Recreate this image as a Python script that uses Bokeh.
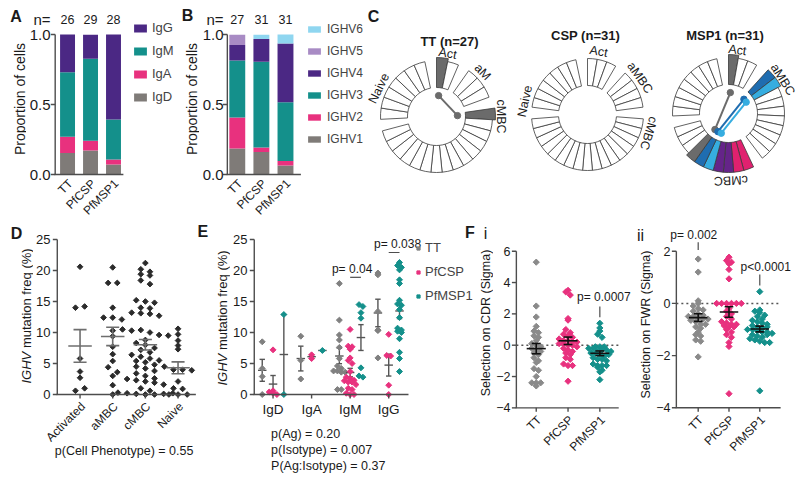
import math
import numpy as np
from bokeh.plotting import figure
from bokeh.models import Range1d, Legend, LegendItem, FixedTicker, PrintfTickFormatter
from bokeh.layouts import row, column
from bokeh.embed import file_html
from bokeh.resources import INLINE
from bokeh.core.properties import value

FONT = "Liberation Sans"
AX = "#4d4d4d"
TXT = "#1a1a1a"

GRAY = "#7f7b78"
MAGENTA = "#e8317e"
TEAL = "#14908b"
PURPLE = "#4b2884"
LILAC = "#a88bc4"
SKY = "#8fd6f0"

# ---------------- data ----------------
antigens = ["TT", "PfCSP", "PfMSP1"]

# A: isotype proportions (stack bottom -> top)
isotypes = ["IgD", "IgA", "IgM", "IgG"]
n_isotype = [26, 29, 28]
prop_IgD = [0.154, 0.172, 0.071]
prop_IgA = [0.115, 0.069, 0.036]
prop_IgM = [0.462, 0.586, 0.286]
prop_IgG = [0.269, 0.172, 0.607]

# B: IGHV family proportions (stack bottom -> top)
vh_genes = ["IGHV1", "IGHV2", "IGHV3", "IGHV4", "IGHV5", "IGHV6"]
n_vh = [27, 31, 31]
prop_V1 = [0.185, 0.161, 0.065]
prop_V2 = [0.222, 0.032, 0.032]
prop_V3 = [0.407, 0.613, 0.419]
prop_V4 = [0.111, 0.161, 0.419]
prop_V5 = [0.074, 0.000, 0.000]
prop_V6 = [0.000, 0.032, 0.065]

# C: clonal circle plots
phenotypes = ["Act", "aMBC", "cMBC", "Naive"]
TT_counts = [2, 3, 15, 7]
CSP_counts = [3, 4, 17, 7]
MSP1_counts = [3, 10, 10, 8]
TT_cells = [("Act", 0, "gray"), ("cMBC", 0, "gray")]
CSP_cells = []
MSP1_cells = [("Act", 0, "gray"), ("aMBC", 0, "blue"), ("aMBC", 1, "light"),
              ("cMBC", 0, "pink"), ("cMBC", 1, "pink"), ("cMBC", 2, "purple"),
              ("cMBC", 3, "purple"), ("cMBC", 4, "light"), ("cMBC", 5, "blue"),
              ("cMBC", 6, "gray")]
TT_links = [(("Act", 0), ("cMBC", 0), "gray")]
CSP_links = []
MSP1_links = [(("Act", 0), ("cMBC", 6), "gray"),
              (("aMBC", 0), ("cMBC", 5), "blue"),
              (("aMBC", 1), ("cMBC", 4), "light")]
TT_labels = {"Act": ("Act", 80), "aMBC": ("aM", 44), "cMBC": ("cMBC", 0), "Naive": ("Naive", 154)}
CSP_labels = {"Act": ("Act", 80), "aMBC": ("aMBC", 35), "cMBC": ("cMBC", -17), "Naive": ("Naive", 168)}
MSP1_labels = {"Act": ("Act", 82), "aMBC": ("aMBC", 32), "cMBC": ("cMBC", -88)}

# D: IGHV mutation frequency by phenotype
pheno_labels = ["Activated", "aMBC", "cMBC", "Naive"]
act_mut = [20.6, 14.0, 14.2, 5.8, 3.7, 2.7, 0.6, 1.0]
ambc_mut = [20.5, 18.0, 18.0, 14.0, 12.4, 12.4, 12.1, 10.3, 9.4, 7.7, 6.5, 5.4,
            4.4, 3.6, 3.0, 1.5, 0.0]
cmbc_mut = [21.2, 20.2, 19.8, 19.4, 19.2, 18.4, 17.8, 15.2, 15.0, 14.8, 14.0,
            13.9, 13.2, 13.1, 13.0, 12.7, 10.5, 10.3, 10.4, 10.0, 9.6, 9.5, 8.8,
            8.3, 8.0, 7.5, 7.2, 6.8, 6.4, 6.1, 5.8, 5.5, 5.4, 5.2, 4.8, 4.5, 4.2,
            3.8, 3.4, 3.0, 2.6, 2.5, 2.3, 2.1, 1.9, 1.6, 1.0, 0.6, 0.3, 0.2, 0.1,
            0.0, 0.0, 0.1, 0.2]
naive_mut = [10.6, 9.7, 8.7, 7.9, 7.3, 4.5, 4.0, 4.0, 3.9, 2.1, 1.0, 0.9, 0.0, 0.0, 0.0]

# E: IGHV mutation frequency by isotype and antigen
iso_order = ["IgD", "IgA", "IgM", "IgG"]
TT_IgD = [8.5, 4.2, 2.9, 0.0]
TT_IgA = [9.4, 5.5, 2.5]
TT_IgM = [17.9, 12.0, 9.6, 8.8, 7.6, 5.8, 4.6, 4.2, 3.8, 3.8, 3.6, 3.6, 0.8, 0.8]
TT_IgG = [19.6, 19.3, 13.4, 10.4, 10.3, 5.9]
CSP_IgD = [7.2, 0.6, 0.4, 0.2, 0.0]
CSP_IgA = [6.4, 5.8]
CSP_IgM = [10.5, 7.8, 7.7, 7.3, 5.9, 5.5, 5.0, 3.7, 2.8, 2.6, 2.3, 2.2, 2.0, 2.0,
           1.6, 1.0, 0.8, 0.2, 0.0, 0.0]
CSP_IgG = [9.7, 6.3, 6.2, 1.5, 0.0]
MSP1_IgD = [12.9, 0.0]
MSP1_IgA = [7.1]
MSP1_IgM = [14.5, 14.2, 13.2, 12.3, 4.3, 3.0, 2.8]
MSP1_IgG = [21.3, 20.8, 20.5, 20.1, 18.5, 17.9, 15.2, 14.6, 14.4, 13.7, 12.4, 10.7,
            10.4, 10.2, 10.0, 9.0, 6.8, 5.8, 3.7]

# F: selection strength (sigma)
cdr_TT = [5.3, 2.5, 1.8, 1.2, 0.9, 0.8, 0.6, 0.5, 0.3, 0.1, 0.0, -0.1, -0.2, -0.3,
          -0.4, -0.5, -0.6, -0.8, -1.0, -1.1, -1.5, -1.6, -2.0, -2.4, -2.4, -2.4, -2.6]
cdr_CSP = [3.5, 3.4, 3.2, 1.7, 1.6, 1.0, 0.8, 0.7, 0.6, 0.5, 0.4, 0.3, 0.3, 0.2, 0.2,
           0.1, 0.1, 0.0, 0.0, -0.1, -0.2, -0.3, -0.4, -0.5, -0.6, -0.8, -0.9, -1.2,
           -1.3, -1.3, -2.3]
cdr_MSP1 = [1.4, 0.9, 1.1, 0.7, 0.5, -0.1, -0.2, -0.2, -0.4, -0.1, -0.1, -0.3, -0.3,
            -0.4, -0.5, -0.5, -0.6, -0.7, -0.8, -0.9, -0.9, -1.0, -1.2, -1.3, -1.3,
            -1.3, -1.4, -1.6, -1.7, -2.2, -0.6]
fwr_TT = [1.7, 1.2, 0.1, 0.0, -0.1, -0.2, -0.25, -0.3, -0.4, -0.45, -0.5, -0.5, -0.55,
          -0.6, -0.6, -0.65, -0.7, -0.8, -0.8, -0.9, -0.95, -1.1, -1.2, -1.25, -1.4,
          -1.45, -2.05]
fwr_CSP = [1.77, 1.64, 1.58, 1.52, 1.3, 0.94, 0.0, 0.0, 0.0, 0.0, 0.0, 0.0, -0.2, -0.3,
           -0.4, -0.5, -0.6, -0.7, -0.75, -0.8, -0.8, -0.85, -0.9, -0.9, -1.0, -1.1,
           -1.2, -1.3, -1.5, -1.65, -3.46]
fwr_MSP1 = [0.45, -0.25, -0.3, -0.35, -0.45, -0.5, -0.6, -0.65, -0.7, -0.75, -0.8,
            -0.85, -0.9, -0.95, -1.0, -1.0, -1.05, -1.1, -1.1, -1.15, -1.2, -1.25, -1.3,
            -1.35, -1.4, -1.45, -1.5, -1.5, -1.2, -0.9, -3.35]


# ---------------- helpers ----------------
class Geo:
    """maps page pixels to a figure's data space (frame = whole figure)"""

    def __init__(self, ox, oy, w, h, xa, xb, ya, yb):
        self.sx = (xb[1] - xa[1]) / (xb[0] - xa[0])
        self.sy = (yb[1] - ya[1]) / (yb[0] - ya[0])
        self.xa, self.ya = xa, ya
        self.xr = (self.dx(ox), self.dx(ox + w))
        self.yr = (self.dy(oy + h), self.dy(oy))

    def dx(self, rx):
        return self.xa[1] + (rx - self.xa[0]) * self.sx

    def dy(self, ry):
        return self.ya[1] + (ry - self.ya[0]) * self.sy

    def py(self, n):
        return -n * self.sy


def make(ox, oy, w, h, xa=(0, 0), xb=(100, 100), ya=(0, 0), yb=(100, -100),
         label_rx=None, tick_size="13px"):
    g = Geo(ox, oy, w, h, xa, xb, ya, yb)
    yaxis = label_rx is not None
    p = figure(width=w, height=h, x_range=Range1d(*g.xr), y_range=Range1d(*g.yr),
               min_border_left=0, min_border_right=0, min_border_top=0,
               min_border_bottom=0, x_axis_location=None,
               y_axis_location=("left" if yaxis else None),
               toolbar_location=None, tools="", output_backend="svg", title=None)
    p.grid.visible = False
    p.outline_line_color = None
    if yaxis:
        ax = p.yaxis[0]
        ax.axis_line_color = None
        ax.major_tick_out = 0
        ax.major_tick_in = 0
        ax.minor_tick_line_color = None
        ax.major_label_text_font = FONT
        ax.major_label_text_font_size = tick_size
        ax.major_label_text_color = TXT
        # tick labels are right-aligned at page x = label_rx (inside the frame)
        ax.major_label_standoff = int(round(ox - label_rx))
    return p, g


def txt(p, x, y, s, size="12px", style="normal", align="center", baseline="middle",
        angle=0.0, color=TXT):
    p.text(x=[x], y=[y], text=[s], angle=angle, text_align=align,
           text_baseline=baseline, text_font=value(FONT), text_font_size=size,
           text_font_style=style, text_color=color)


def ylab_ighv(p, g, rx, ry_bottom):
    txt(p, g.dx(rx), g.dy(ry_bottom), "IGHV", size="13px", style="italic", align="left",
        angle=math.pi / 2)
    txt(p, g.dx(rx), g.dy(ry_bottom - 35.4), "mutation freq (%)", size="13px", align="left",
        angle=math.pi / 2)


def y_axis(p, g, axis_rx, y0, y1, ticks):
    xa = g.dx(axis_rx)
    p.segment(x0=[xa], y0=[y0], x1=[xa], y1=[y1], line_color=AX, line_width=1.4)
    xt = g.dx(axis_rx - 4.5)
    p.segment(x0=[xt] * len(ticks), y0=ticks, x1=[xa] * len(ticks), y1=ticks,
              line_color=AX, line_width=1.4)


def x_axis(p, g, axis_rx, end_rx, ybase, labels, size, rotate, tick_len, yo):
    xs = list(range(len(labels)))
    p.segment(x0=[g.dx(axis_rx - 0.7)], y0=[ybase], x1=[g.dx(end_rx)], y1=[ybase],
              line_color=AX, line_width=1.4)
    if tick_len:
        p.segment(x0=xs, y0=[ybase] * len(xs), x1=xs, y1=[ybase - g.py(tick_len)] * len(xs),
                  line_color=AX, line_width=1.4)
    if rotate:
        p.text(x=xs, y=[ybase] * len(xs), text=labels, angle=math.pi / 4,
               text_align="right", text_baseline="middle", x_offset=3, y_offset=yo,
               text_font=value(FONT), text_font_size=size, text_color=TXT)
    else:
        p.text(x=xs, y=[ybase] * len(xs), text=labels, text_align="center",
               text_baseline="top", y_offset=yo, text_font=value(FONT),
               text_font_size=size, text_color=TXT)


def swarm(vals, binw, step):
    v = np.asarray(vals, float)
    keys = np.round(v / binw).astype(int)
    off = np.zeros(len(v))
    for k in np.unique(keys):
        idx = np.where(keys == k)[0]
        n = len(idx)
        off[idx] = (np.arange(n) - (n - 1) / 2.0) * step
    return off


def mean_sem(vals):
    v = np.asarray(vals, float)
    m = float(v.mean())
    s = float(v.std(ddof=1) / math.sqrt(len(v))) if len(v) > 1 else None
    return m, s


def errbar(p, x, vals, half_mean, half_cap, color, width):
    m, s = mean_sem(vals)
    x0, x1, y0, y1 = [x - half_mean], [x + half_mean], [m], [m]
    if s is not None:
        x0 += [x - half_cap, x - half_cap, x]
        x1 += [x + half_cap, x + half_cap, x]
        y0 += [m + s, m - s, m - s]
        y1 += [m + s, m - s, m + s]
    p.segment(x0=x0, y0=y0, x1=x1, y1=y1, line_color=color, line_width=width)


def legend(items, loc, gw, gh, spacing, standoff, size):
    return Legend(items=items, location=loc, glyph_width=gw, glyph_height=gh,
                  label_height=gh, spacing=spacing, padding=0, margin=0,
                  label_standoff=standoff, label_text_font=FONT,
                  label_text_font_size=size, border_line_color=None,
                  background_fill_alpha=0)


# ================= top row (page y 0..222) =================
TOP_H = 222
pT0, gT0 = make(0, 0, 26, TOP_H)
txt(pT0, 15.5, -16, "A", size="16px", style="bold")
txt(pT0, 19, -98.5, "Proportion of cells", size="14px", angle=math.pi / 2)


def stacked(p, stacks, colours, names, width):
    xs = np.arange(len(antigens))
    bot = np.zeros(len(antigens))
    rs = {}
    for name, vals, col in zip(names, stacks, colours):
        top = bot + np.array(vals)
        rs[name] = p.vbar(x=xs, bottom=bot, top=top, width=width, fill_color=col,
                          line_color=None)
        bot = top
    return rs


# ---- A ----
pA, gA = make(26, 0, 173, TOP_H, xa=(65.5, 0), xb=(112, 2), ya=(174, 0), yb=(34, 1),
              label_rx=48, tick_size="15px")
rA = stacked(pA, [prop_IgD, prop_IgA, prop_IgM, prop_IgG], [GRAY, MAGENTA, TEAL, PURPLE],
             isotypes, 0.65)
nA = gA.dy(19)
pA.yaxis.ticker = FixedTicker(ticks=[0, 0.5, 1, nA])
pA.yaxis.formatter = PrintfTickFormatter(format="%.1f")
pA.yaxis.major_label_overrides = {nA: "n="}
y_axis(pA, gA, 53, 0, 1, [0, 0.5, 1])
x_axis(pA, gA, 53, 122, 0, antigens, "12px", True, 0, 7)
for i, n in enumerate(n_isotype):
    txt(pA, i, nA, str(n), size="12.5px")
pA.add_layout(legend([LegendItem(label=n, renderers=[rA[n]]) for n in reversed(isotypes)],
                     (104, 118), 16, 10, 8, 4, "13px"))
txt(pA, gA.dx(187), gA.dy(14.5), "B", size="16px", style="bold")
txt(pA, gA.dx(191), gA.dy(98.5), "Proportion of cells", size="14px", angle=math.pi / 2)

# ---- B ----
pB, gB = make(199, 0, 167, TOP_H, xa=(236, 0), xb=(284.5, 2), ya=(174, 0), yb=(34, 1),
              label_rx=222, tick_size="15px")
rB = stacked(pB, [prop_V1, prop_V2, prop_V3, prop_V4, prop_V5, prop_V6],
             [GRAY, MAGENTA, TEAL, PURPLE, LILAC, SKY], vh_genes, 0.66)
nB = gB.dy(19)
pB.yaxis.ticker = FixedTicker(ticks=[0, 0.5, 1, nB])
pB.yaxis.formatter = PrintfTickFormatter(format="%.1f")
pB.yaxis.major_label_overrides = {nB: "n="}
y_axis(pB, gB, 226, 0, 1, [0, 0.5, 1])
x_axis(pB, gB, 226, 300, 0, antigens, "12px", True, 0, 7)
for i, n in enumerate(n_vh):
    txt(pB, i, nB, str(n), size="12.5px")
pB.add_layout(legend([LegendItem(label=n, renderers=[rB[n]]) for n in reversed(vh_genes)],
                     (106, 76), 16, 8, 8, 5, "12px"))

# ---- C ----
pC, gC = make(366, 0, 434, TOP_H)
R_IN, R_OUT, EXT, GAP, R_DOT = 29, 56, 3, 12, 21
CLONE_COL = {"gray": "#6b6b6b", "blue": "#1f6db0", "light": "#36ade0",
             "purple": "#652489", "pink": "#e0216f"}
donuts = [
    dict(title="TT (n=27)", center=(436, -116), tpos=(449, -41), counts=TT_counts,
         cells=TT_cells, links=TT_links, labels=TT_labels),
    dict(title="CSP (n=31)", center=(587, -114), tpos=(585, -35), counts=CSP_counts,
         cells=CSP_cells, links=CSP_links, labels=CSP_labels),
    dict(title="MSP1 (n=31)", center=(728, -113), tpos=(724.5, -35), counts=MSP1_counts,
         cells=MSP1_cells, links=MSP1_links, labels=MSP1_labels),
]
for d in donuts:
    cx, cy = d["center"]
    n = sum(d["counts"])
    seg = (360.0 - GAP * len(d["counts"])) / n
    colour_of = {(g, i): c for g, i, c in d["cells"]}
    a = 90.0
    centers = {}
    s_ang, e_ang, fills, outs, spans = [], [], [], [], []
    for g, cnt in zip(phenotypes, d["counts"]):
        for i in range(cnt):
            hi = a - i * seg
            lo = hi - seg
            col = colour_of.get((g, i))
            s_ang.append(math.radians(lo))
            e_ang.append(math.radians(hi))
            fills.append(CLONE_COL[col] if col else "white")
            outs.append(R_OUT + (EXT if col else 0))
            centers[(g, i)] = (hi + lo) / 2.0
            if col:
                spans.append((lo, hi))
        a -= cnt * seg + GAP
    pC.annular_wedge(x=[cx] * n, y=[cy] * n, inner_radius=R_IN, outer_radius=outs,
                     start_angle=s_ang, end_angle=e_ang, fill_color=fills,
                     line_color="#3a3a3a", line_width=0.8)
    for (k1, k2, col) in d["links"]:
        a1 = math.radians(centers[k1])
        a2 = math.radians(centers[k2])
        px = [cx + R_DOT * math.cos(a1), cx + R_DOT * math.cos(a2)]
        py = [cy + R_DOT * math.sin(a1), cy + R_DOT * math.sin(a2)]
        pC.line(px, py, line_color=CLONE_COL[col], line_width=2)
        pC.circle(px, py, radius=3.2, fill_color=CLONE_COL[col], line_color=CLONE_COL[col])
    for g, (label, ang) in d["labels"].items():
        extra = EXT if (ang < -45 and any(lo <= ang <= hi for lo, hi in spans)) else 0
        r = R_OUT + 1 + extra
        t = math.radians(ang)
        txt(pC, cx + r * math.cos(t), cy + r * math.sin(t), label, size="12.5px",
            baseline="bottom", angle=t - math.pi / 2)
    txt(pC, d["tpos"][0], d["tpos"][1], d["title"], size="13px", style="bold")
txt(pC, 373, -16, "C", size="16px", style="bold")

# ================= bottom row (page y 222..479) =================
BY, BH = 222, 257
pT1, gT1 = make(0, BY, 33, BH)
txt(pT1, 16, -233, "D", size="16px", style="bold")
ylab_ighv(pT1, gT1, 26, 383)

# ---- D ----
pD, gD = make(33, BY, 197, BH, xa=(78, 0), xb=(177, 3), ya=(394, 0), yb=(239, 25),
              label_rx=48)
for i, vals in enumerate([act_mut, ambc_mut, cmbc_mut, naive_mut]):
    off = swarm(vals, 1.0, 0.28)
    pD.scatter(x=i + off, y=vals, marker="square", angle=math.pi / 4, size=4,
               color="#2b2b2b")
    errbar(pD, i, vals, 0.36, 0.2, "#6e6e6e", 1.6)
pD.yaxis.ticker = FixedTicker(ticks=[0, 5, 10, 15, 20, 25])
y_axis(pD, gD, 55, 0, 25, [0, 5, 10, 15, 20, 25])
x_axis(pD, gD, 55, 195, 0, pheno_labels, "12px", True, 4, 10)
txt(pD, gD.dx(122.5), gD.dy(450), "p(Cell Phenotype) = 0.55", size="12.5px")
txt(pD, gD.dx(202), gD.dy(231), "E", size="16px", style="bold")
ylab_ighv(pD, gD, 221.5, 385)

# ---- E ----
pE, gE = make(230, BY, 263, BH, xa=(270, 0), xb=(387, 3), ya=(394, 0), yb=(239, 25),
              label_rx=244)
pE.yaxis.ticker = FixedTicker(ticks=[0, 5, 10, 15, 20, 25])
ag_off = [-0.28, 0.0, 0.28]
e_sets = [(antigens[0], "#808080", [TT_IgD, TT_IgA, TT_IgM, TT_IgG]),
          (antigens[1], MAGENTA, [CSP_IgD, CSP_IgA, CSP_IgM, CSP_IgG]),
          (antigens[2], TEAL, [MSP1_IgD, MSP1_IgA, MSP1_IgM, MSP1_IgG])]
rE = []
for j, (ag, col, groups) in enumerate(e_sets):
    xx, yy = [], []
    for i, vals in enumerate(groups):
        off = swarm(vals, 0.9, 0.1)
        xx += list(i + ag_off[j] + off)
        yy += list(vals)
        errbar(pE, i + ag_off[j], vals, 0.11, 0.07, "#555555", 1.4)
    rE.append(pE.scatter(x=xx, y=yy, marker="square", angle=math.pi / 4, size=4.2,
                         color=col))
y_axis(pE, gE, 251, 0, 25, [0, 5, 10, 15, 20, 25])
x_axis(pE, gE, 251, 407, 0, iso_order, "13.5px", False, 4, 7)
pE.add_layout(legend([LegendItem(label=ag, renderers=[r]) for (ag, _, _), r in zip(e_sets, rE)],
                     (181, 176), 8, 10, 9, 3, "13px"))
pE.segment(x0=[2 + ag_off[1], 3 + ag_off[1]], y0=[18.9, 22.9],
           x1=[2 + ag_off[2], 3 + ag_off[2]], y1=[18.9, 22.9], line_color=AX, line_width=1.2)
txt(pE, gE.dx(350), gE.dy(268), "p= 0.04", size="12px")
txt(pE, gE.dx(396), gE.dy(243), "p= 0.038", size="12px")
txt(pE, gE.dx(268), gE.dy(433), "p(Ag) = 0.20", size="12.5px", align="left")
txt(pE, gE.dx(268), gE.dy(449), "p(Isotype) = 0.007", size="12.5px", align="left")
txt(pE, gE.dx(268), gE.dy(465), "P(Ag:Isotype) = 0.37", size="12.5px", align="left")
txt(pE, gE.dx(469), gE.dy(232), "F", size="16px", style="bold")
txt(pE, gE.dx(485), gE.dy(233), "i", size="16px")
txt(pE, gE.dx(485), gE.dy(322.5), "Selection on CDR (Sigma)", size="12.5px", angle=math.pi / 2)


# ---- F ----
def sel_panel(ox, w, xa, xb, ya, yb, axis_rx, end_rx, ymin, ymax, sets, binw, step, ticks):
    p, g = make(ox, BY, w, BH, xa=xa, xb=xb, ya=ya, yb=yb, label_rx=axis_rx - 6,
                tick_size="12.5px")
    p.segment(x0=[g.dx(axis_rx)], y0=[0], x1=[g.dx(end_rx)], y1=[0], line_color="#555555",
              line_dash="2 3", line_width=1.5)
    for i, (vals, col) in enumerate(sets):
        off = swarm(vals, binw, step)
        p.scatter(x=i + off, y=vals, marker="square", angle=math.pi / 4, size=4.4, color=col)
        errbar(p, i, vals, 0.3, 0.14, "#111111", 1.6)
    p.yaxis.ticker = FixedTicker(ticks=ticks)
    y_axis(p, g, axis_rx, ymin, ymax, ticks)
    x_axis(p, g, axis_rx, end_rx, ymin, antigens, "12px", True, 4, 10)
    return p, g


pF1, gF1 = sel_panel(493, 160, (535, 0), (599, 2), (344.7, 0), (250.7, 6), 515, 618, -4, 6,
                     [(cdr_TT, "#8a8a8a"), (cdr_CSP, MAGENTA), (cdr_MSP1, TEAL)],
                     0.3, 0.14, [-4, -2, 0, 2, 4, 6])
pF1.segment(x0=[2], y0=[1.79], x1=[2], y1=[2.47], line_color=AX, line_width=1.2)
txt(pF1, gF1.dx(603), gF1.dy(296.7), "p= 0.0007", size="12px")
txt(pF1, gF1.dx(640), gF1.dy(235), "ii", size="16px")
txt(pF1, gF1.dx(645), gF1.dy(324), "Selection on FWR (Sigma)", size="12.5px",
    angle=math.pi / 2)

pF2, gF2 = sel_panel(653, 147, (697, 0), (759, 2), (302.9, 0), (250.7, 2), 675, 780, -4, 2,
                     [(fwr_TT, "#8a8a8a"), (fwr_CSP, MAGENTA), (fwr_MSP1, TEAL)],
                     0.18, 0.16, [-4, -2, 0, 2])
pF2.segment(x0=[0, 2], y0=[2.05, 0.69], x1=[0, 2], y1=[2.34, 1.11], line_color=AX,
            line_width=1.2)
txt(pF2, gF2.dx(692.5), gF2.dy(234), "p= 0.002", size="12px")
txt(pF2, gF2.dx(765), gF2.dy(266.7), "p<0.0001", size="12px")

layout = column(row(pT0, pA, pB, pC), row(pT1, pD, pE, pF1, pF2))
open("out.html", "w").write(file_html(layout, INLINE))
